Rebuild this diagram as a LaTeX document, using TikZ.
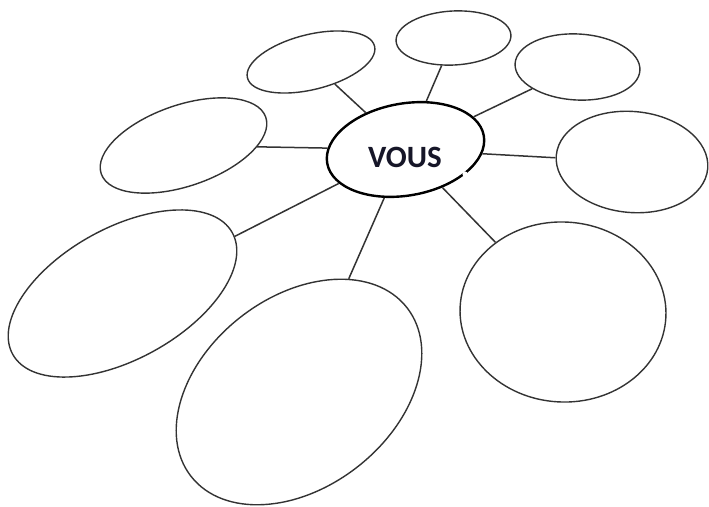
\documentclass[tikz,border=0pt]{standalone}
\usepackage{fontspec}
\newfontfamily\calib{Carlito}
\usetikzlibrary{shapes.geometric}
\definecolor{ink}{RGB}{22,22,40}
\tikzset{
  bubble/.style={ellipse, draw=black!80, line width=1.4pt, inner sep=0pt, fill=none},
  hub/.style={ellipse, draw=black, line width=2.4pt, inner sep=0pt},
  spoke/.style={draw=black!80, line width=1.5pt},
  label/.style={font=\calib\bfseries\fontsize{31}{31}\selectfont, text=ink, inner sep=0pt}
}
\begin{document}
\begin{tikzpicture}[x=1pt,y=-1pt]
\useasboundingbox[fill=white] (0,0) rectangle (709,506);
\node[hub, minimum width=159pt, minimum height=92pt, rotate=10] (c) at (405.5,149.5) {};
\fill[white] (465,174) circle (2.6pt);
\node[label] (t) at (405,157) {VOUS};
\node[bubble, minimum width=131pt, minimum height=55pt, rotate=14] (tl) at (311,62) {};
\node[bubble, minimum width=115pt, minimum height=54pt, rotate=3] (tp) at (453.5,38) {};
\node[bubble, minimum width=125pt, minimum height=66pt, rotate=-3] (tr) at (577.5,67) {};
\node[bubble, minimum width=152pt, minimum height=101pt, rotate=-5] (r) at (632,162) {};
\node[bubble, minimum width=174pt, minimum height=81pt, rotate=19] (l) at (183.5,145.5) {};
\node[bubble, minimum width=251pt, minimum height=131pt, rotate=29] (bl) at (122.5,293.5) {};
\node[bubble, minimum width=274pt, minimum height=190pt, rotate=38] (bc) at (299,392) {};
\node[bubble, minimum width=206pt, minimum height=180pt, rotate=-3] (br) at (563,312) {};
\foreach \n in {tl,tp,tr,r,l,bl,bc,br}{\draw[spoke] (c) -- (\n);}
\end{tikzpicture}
\end{document}
